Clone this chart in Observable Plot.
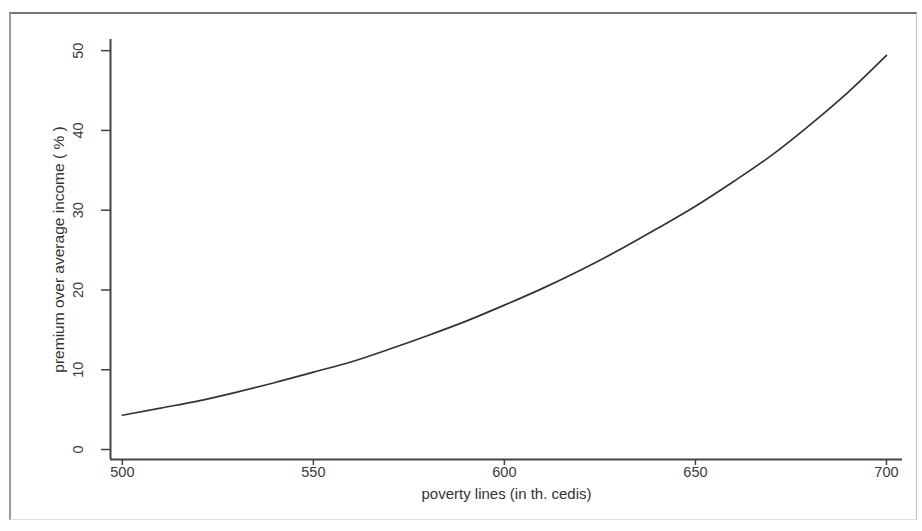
<!DOCTYPE html>
<html>
<head>
<meta charset="utf-8">
<script src="https://cdn.jsdelivr.net/npm/d3@7"></script>
<script src="https://cdn.jsdelivr.net/npm/@observablehq/plot@0.6"></script>
<style>
  html, body { margin: 0; padding: 0; background: #fff; }
  #wrap { position: relative; width: 922px; height: 531px; overflow: hidden; }
  #frame { position: absolute; left: 9px; top: 12px; width: 908px; height: 508px;
           border-top: 2px solid #777; border-left: 2px solid #999;
           border-right: 1px solid #bbb; border-bottom: 1px solid #ddd; box-sizing: border-box; pointer-events: none; }
</style>
</head>
<body>
<div id="wrap"><div id="frame"></div></div>
<script>
// Data
const povertyLines = [500, 510, 520, 530, 540, 550, 560, 570, 580, 590, 600, 610, 620, 630, 640, 650, 660, 670, 680, 690, 700];
const premium      = [4.3, 5.2, 6.1, 7.2, 8.4, 9.7, 11.0, 12.6, 14.3, 16.1, 18.1, 20.2, 22.5, 25.0, 27.7, 30.5, 33.6, 36.9, 40.7, 44.8, 49.4];
const xTicks = [500, 550, 600, 650, 700];
const yTicks = [0, 10, 20, 30, 40, 50];
const xLabel = "poverty lines (in th. cedis)";
const yLabel = "premium over average income ( % )";
const xDomain = [496.9, 704.2];
const yDomain = [-1.25, 51.4];

const data = povertyLines.map((x, i) => ({x, y: premium[i]}));

const chart = Plot.plot({
  width: 922,
  height: 531,
  marginLeft: 110,
  marginRight: 20,
  marginTop: 39,
  marginBottom: 72,
  x: {domain: xDomain},
  y: {domain: yDomain},
  style: {fontFamily: "'Liberation Sans', Arial, sans-serif", fontSize: "15px", color: "#333", background: "transparent"},
  marks: [
    Plot.ruleX([xDomain[0]], {stroke: "#444", strokeWidth: 2}),
    Plot.ruleY([yDomain[0]], {stroke: "#444", strokeWidth: 2}),
    Plot.axisX({ticks: xTicks, tickSize: 6, tickFormat: () => "", label: null, stroke: "#444", strokeWidth: 1.5}),
    Plot.axisY({ticks: yTicks, tickSize: 9, tickFormat: () => "", label: null, stroke: "#444", strokeWidth: 1.5}),
    Plot.text(xTicks, {x: d => d, text: d => String(d), frameAnchor: "bottom", dy: 13, lineAnchor: "middle", fill: "#3a3a3a", fontSize: 14.5}),
    Plot.text(yTicks, {y: d => d, text: d => String(d), frameAnchor: "left", dx: -32, rotate: -90, textAnchor: "middle", lineAnchor: "middle", fill: "#3a3a3a", fontSize: 14.5}),
    Plot.text([xLabel], {frameAnchor: "bottom", dy: 35, lineAnchor: "middle", fill: "#333", fontSize: 15}),
    Plot.text([yLabel], {frameAnchor: "left", dx: -51, rotate: -90, textAnchor: "middle", lineAnchor: "middle", fill: "#333", fontSize: 15.5}),
    Plot.line(data, {x: "x", y: "y", stroke: "#333", strokeWidth: 1.7, curve: "monotone-x"})
  ]
});
chart.style.position = "absolute";
chart.style.left = "0";
chart.style.top = "0";
document.getElementById("wrap").prepend(chart);
</script>
</body>
</html>
